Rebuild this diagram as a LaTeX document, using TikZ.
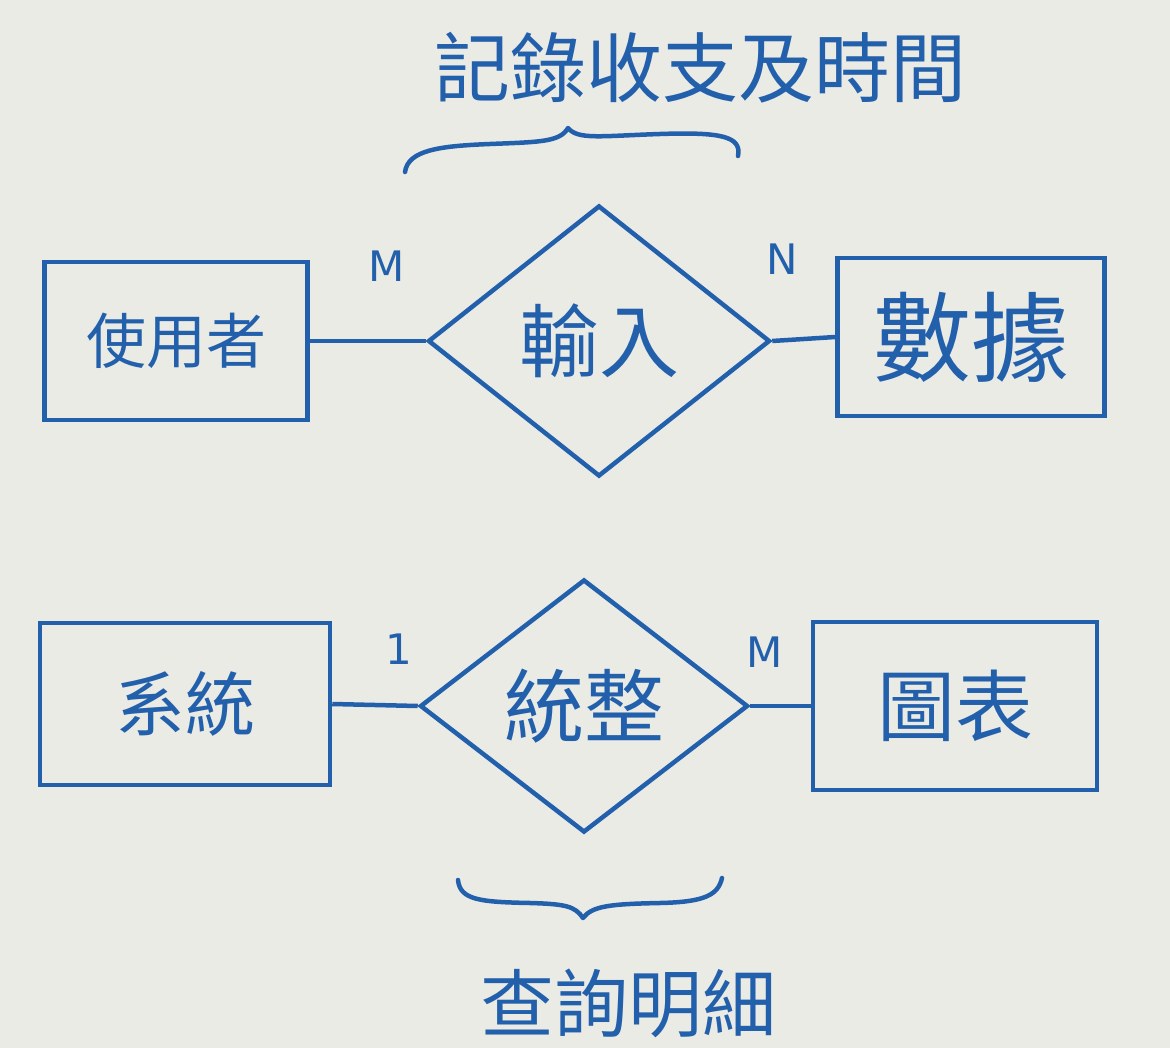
\documentclass[tikz,border=0pt]{standalone}
\usepackage{fontspec}
\newfontfamily\cjk{Noto Sans CJK TC}
\setsansfont{DejaVu Sans}
\usetikzlibrary{shapes.geometric}
\definecolor{ink}{HTML}{2360AC}
\definecolor{paper}{HTML}{EBEBE6}
\tikzset{
  entity/.style={draw=ink, line width=4.5pt, rectangle, inner sep=0pt, text=ink},
  relation/.style={draw=ink, line width=4.5pt, diamond, inner sep=0pt, text=ink},
  link/.style={draw=ink, line width=4.5pt},
  card/.style={text=ink, font=\sffamily\fontsize{42}{42}\selectfont},
  note/.style={text=ink},
  bracepath/.style={draw=ink, line width=4.5pt, line cap=round, line join=round}
}
\begin{document}
\begin{tikzpicture}[x=1pt, y=-1pt]
\fill[paper] (0,0) rectangle (1170,1048);
\useasboundingbox (0,0) rectangle (1170,1048);

% top row
\node[entity, minimum width=263pt, minimum height=158pt, font=\cjk\fontsize{60}{60}\selectfont] (user) at (176,341) {使用者};
\node[relation, minimum width=342pt, minimum height=271pt, font=\cjk\fontsize{80}{80}\selectfont] (input) at (599,341) {輸入};
\node[entity, minimum width=267pt, minimum height=158pt, font=\cjk\fontsize{98}{98}\selectfont] (data) at (971,337) {數據};
\draw[link] (user.east) -- (input.west);
\draw[link] (input.east) -- (data.west);
\node[card] (m1) at (387,266) {M};
\node[card] (n1) at (782,259) {N};

% top brace and note
\coordinate (tb1) at (405,172);
\coordinate (tb2) at (568,128);
\coordinate (tb3) at (738,156);
\draw[bracepath] (tb1) .. controls (408,150) and (440,146) .. (490,144)
  .. controls (540,142) and (560,142) .. (tb2)
  .. controls (578,140) and (600,136) .. (660,134)
  .. controls (720,132) and (742,136) .. (tb3);
\node[note, font=\cjk\fontsize{76}{76}\selectfont] (topnote) at (700,68) {記錄收支及時間};

% bottom row
\node[entity, minimum width=290pt, minimum height=162pt, font=\cjk\fontsize{70}{70}\selectfont] (system) at (185,704) {系統};
\node[relation, minimum width=328pt, minimum height=253pt, font=\cjk\fontsize{80}{80}\selectfont] (summary) at (584,706) {統整};
\node[entity, minimum width=284pt, minimum height=168pt, font=\cjk\fontsize{78}{78}\selectfont] (chart) at (955,706) {圖表};
\draw[link] (system.east) -- (summary.west);
\draw[link] (summary.east) -- (chart.west);
\node[card] (one) at (399,649) {1};
\node[card] (m2) at (765,652) {M};

% bottom brace and note
\coordinate (bb1) at (458,880);
\coordinate (bb2) at (583,918);
\coordinate (bb3) at (722,878);
\draw[bracepath] (bb1) .. controls (460,900) and (480,902) .. (530,903)
  .. controls (565,904) and (575,906) .. (bb2)
  .. controls (592,906) and (610,904) .. (660,903)
  .. controls (705,902) and (718,895) .. (bb3);
\node[note, font=\cjk\fontsize{74}{74}\selectfont] (botnote) at (628,1003) {查詢明細};
\end{tikzpicture}
\end{document}
